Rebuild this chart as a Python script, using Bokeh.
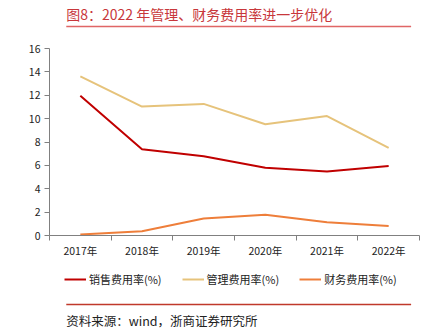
from bokeh.plotting import figure
from bokeh.layouts import column
from bokeh.models import (Legend, LegendItem, FixedTicker, Range1d)
from bokeh.core.properties import value
from bokeh.embed import file_html
from bokeh.resources import INLINE

years = ["2017年", "2018年", "2019年", "2020年", "2021年", "2022年"]
sales = [11.95, 7.38, 6.78, 5.80, 5.48, 5.95]
admin = [13.62, 11.03, 11.26, 9.52, 10.22, 7.50]
finance = [0.09, 0.37, 1.45, 1.77, 1.13, 0.82]
y_ticks = [0, 2, 4, 6, 8, 10, 12, 14, 16]
series_names = ["销售费用率(%)", "管理费用率(%)", "财务费用率(%)"]
title_text = "图8：2022 年管理、财务费用率进一步优化"
source_text = "资料来源：wind，浙商证券研究所"

FONT = "Noto Sans CJK SC"
W = 441
colors = ["#C00000", "#E6C37B", "#EE7E3A"]

def blank(h):
    f = figure(width=W, height=h, output_backend="svg", toolbar_location=None,
               x_range=Range1d(0, W), y_range=Range1d(h, 0), min_border=0)
    f.axis.visible = False
    f.grid.grid_line_color = None
    f.outline_line_color = None
    return f

# header
top = blank(35)
top.text(x=[20], y=[13], text=[title_text], text_font=value(FONT), text_font_size="14px",
         text_color="#C8373B", text_baseline="middle")
top.segment(x0=[20], y0=[26], x1=[431], y1=[26], line_color="#E06666", line_width=1.5)

# main chart
xs = [i + 0.5 for i in range(len(years))]
p = figure(width=W, height=228, output_backend="svg", toolbar_location=None,
           x_range=Range1d(0, len(years)), y_range=Range1d(0, 16),
           min_border_left=49, min_border_right=22, min_border_top=13, min_border_bottom=28)
p.outline_line_color = None
p.grid.grid_line_color = None

p.xaxis.ticker = FixedTicker(ticks=xs, minor_ticks=list(range(len(years) + 1)))
p.xaxis.major_label_overrides = {x: y for x, y in zip(xs, years)}
p.xaxis.minor_tick_in = 0
p.xaxis.minor_tick_out = 5
p.xaxis.minor_tick_line_color = "#808080"
p.xaxis.major_tick_line_color = None
p.yaxis.ticker = FixedTicker(ticks=y_ticks)
p.yaxis.minor_tick_line_color = None
p.yaxis.major_tick_in = 0
p.yaxis.major_tick_out = 5
p.yaxis.major_tick_line_color = "#808080"
for ax in (p.xaxis, p.yaxis):
    ax.axis_line_color = "#808080"
    ax.major_label_text_font = FONT
    ax.major_label_text_font_size = "10.5px"
    ax.major_label_text_color = "#222222"
p.xaxis.major_label_standoff = 1
p.yaxis.major_label_standoff = 4

for ys, c in zip([sales, admin, finance], colors):
    p.line(xs, ys, line_color=c, line_width=2)

# footer with legend (legend swatches use off-screen proxy lines)
bot = blank(70)
leg_rs = [bot.line([-20, -10], [-20, -20], line_color=c, line_width=2) for c in colors]
legend = Legend(items=[LegendItem(label=n, renderers=[r]) for n, r in zip(series_names, leg_rs)],
                orientation="horizontal", location=(15, 46),
                label_text_font=FONT, label_text_font_size="11px", label_text_color="#222222",
                glyph_width=22, glyph_height=12, spacing=20, label_standoff=3,
                border_line_color=None, background_fill_alpha=0,
                margin=0, padding=0)
bot.add_layout(legend, "center")
bot.segment(x0=[20], y0=[41], x1=[431], y1=[41], line_color="#C0392B", line_width=1.5)
bot.text(x=[20], y=[57], text=[source_text], text_font=value(FONT), text_font_size="12.5px",
         text_color="#222222", text_baseline="middle")

layout = column(top, p, bot, spacing=0)
open("out.html", "w").write(file_html(layout, INLINE))
